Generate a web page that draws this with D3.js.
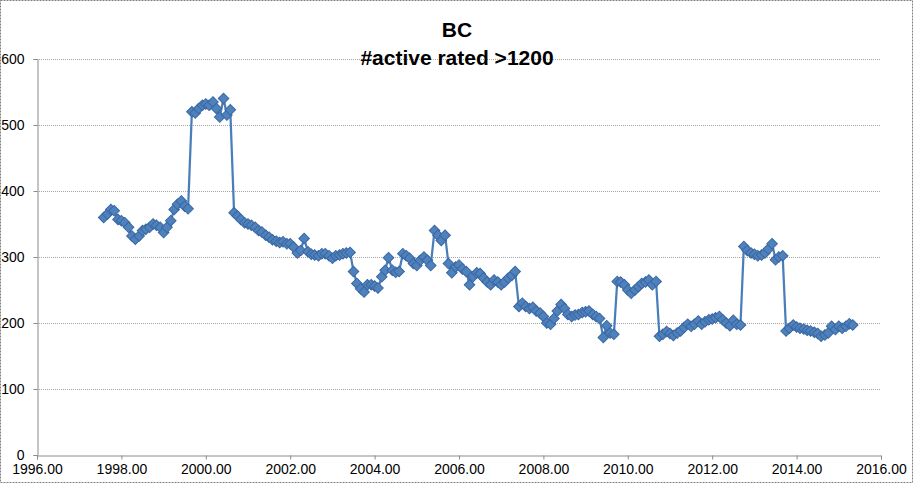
<!DOCTYPE html>
<html>
<head>
<meta charset="utf-8">
<script src="https://cdn.jsdelivr.net/npm/d3@7"></script>
<style>
  html, body { margin: 0; padding: 0; background: #fff; }
  svg { display: block; }
</style>
</head>
<body>
<svg id="chart" width="913" height="483"></svg>
<script>
// ---- data ----
const titleLines = ["BC", "#active rated >1200"];
const xTicks = [1996, 1998, 2000, 2002, 2004, 2006, 2008, 2010, 2012, 2014, 2016];
const yTicks = [0, 100, 200, 300, 400, 500, 600];

const years = [
  1997.58,1997.67,1997.75,1997.83,1997.92,
  1998.00,1998.08,1998.17,1998.25,1998.33,1998.42,1998.50,1998.58,1998.67,1998.75,1998.83,1998.92,
  1999.00,1999.08,1999.17,1999.25,1999.33,1999.42,1999.50,1999.58,1999.67,1999.75,1999.83,1999.92,
  2000.00,2000.08,2000.17,2000.25,2000.33,2000.42,2000.50,2000.58,2000.67,2000.75,2000.83,2000.92,
  2001.00,2001.08,2001.17,2001.25,2001.33,2001.42,2001.50,2001.58,2001.67,2001.75,2001.83,2001.92,
  2002.00,2002.08,2002.17,2002.25,2002.33,2002.42,2002.50,2002.58,2002.67,2002.75,2002.83,2002.92,
  2003.00,2003.08,2003.17,2003.25,2003.33,2003.42,2003.50,2003.58,2003.67,2003.75,2003.83,2003.92,
  2004.00,2004.08,2004.17,2004.25,2004.33,2004.42,2004.50,2004.58,2004.67,2004.75,2004.83,2004.92,
  2005.00,2005.08,2005.17,2005.25,2005.33,2005.42,2005.50,2005.58,2005.67,2005.75,2005.83,2005.92,
  2006.00,2006.08,2006.17,2006.25,2006.33,2006.42,2006.50,2006.58,2006.67,2006.75,2006.83,2006.92,
  2007.00,2007.08,2007.17,2007.25,2007.33,2007.42,2007.50,2007.58,2007.67,2007.75,2007.83,2007.92,
  2008.00,2008.08,2008.17,2008.25,2008.33,2008.42,2008.50,2008.58,2008.67,2008.75,2008.83,2008.92,
  2009.00,2009.08,2009.17,2009.25,2009.33,2009.42,2009.50,2009.58,2009.67,2009.75,2009.83,2009.92,
  2010.00,2010.08,2010.17,2010.25,2010.33,2010.42,2010.50,2010.58,2010.67,2010.75,2010.83,2010.92,
  2011.00,2011.08,2011.17,2011.25,2011.33,2011.42,2011.50,2011.58,2011.67,2011.75,2011.83,2011.92,
  2012.00,2012.08,2012.17,2012.25,2012.33,2012.42,2012.50,2012.58,2012.67,2012.75,2012.83,2012.92,
  2013.00,2013.08,2013.17,2013.25,2013.33,2013.42,2013.50,2013.58,2013.67,2013.75,2013.83,2013.92,
  2014.00,2014.08,2014.17,2014.25,2014.33,2014.42,2014.50,2014.58,2014.67,2014.75,2014.83,2014.92,
  2015.00,2015.08,2015.17,2015.25,2015.33
];

const activeRated = [
  360,365,372,370,357,
  355,352,345,332,327,332,340,342,345,350,348,345,
  337,345,355,372,380,385,377,373,520,518,525,530,
  532,530,535,525,512,540,515,523,367,362,357,352,
  350,348,345,340,338,333,330,326,324,322,323,320,
  320,315,306,310,328,308,304,303,302,305,305,302,
  298,302,303,305,306,307,278,260,252,247,258,258,
  256,253,270,280,299,280,277,278,305,302,298,290,
  287,295,300,295,287,340,333,325,333,290,276,285,
  288,282,278,258,270,276,275,268,262,258,265,262,
  258,262,268,272,278,225,230,225,222,224,218,215,
  210,200,198,207,218,228,222,213,210,212,213,216,
  217,218,213,210,207,178,196,185,183,263,262,258,
  250,245,250,255,260,262,265,258,263,180,183,187,
  184,181,185,188,193,198,195,198,203,198,202,205,
  206,208,210,205,200,196,204,198,197,316,310,306,
  304,302,303,306,312,320,296,300,302,188,192,197,
  194,192,191,189,188,186,184,180,182,185,195,190,
  195,192,195,199,197
];

// ---- drawing ----
const svg = d3.select("#chart");
const W = 913, H = 483;
const plot = { left: 37, right: 881, top: 59, bottom: 455 };
const labelFont = "'Liberation Sans Narrow', 'Arial Narrow', 'Liberation Sans', Arial, sans-serif";

const x = d3.scaleLinear().domain([1996, 2016]).range([plot.left, plot.right]);
const y = d3.scaleLinear().domain([0, 600]).range([plot.bottom, plot.top]);

// outer border
svg.append("rect")
  .attr("x", 0.5).attr("y", 0.5).attr("width", W - 1).attr("height", H - 1)
  .attr("fill", "#fff").attr("stroke", "#7f7f7f").attr("stroke-dasharray", "2,1");

// gridlines
svg.append("g").selectAll("line")
  .data(yTicks.filter(v => v > 0))
  .join("line")
  .attr("x1", plot.left).attr("x2", plot.right)
  .attr("y1", d => Math.round(y(d)) + 0.5).attr("y2", d => Math.round(y(d)) + 0.5)
  .attr("stroke", "#a6a6a6").attr("stroke-width", 1).attr("stroke-dasharray", "1,1");

// y axis
const yAxis = svg.append("g")
  .attr("transform", `translate(${plot.left + 0.5},0)`)
  .call(d3.axisLeft(y).tickValues(yTicks).tickSize(4).tickPadding(9).tickFormat(d3.format("d")));
yAxis.select(".domain").attr("stroke", "#8c8c8c");
yAxis.selectAll(".tick line").attr("stroke", "#8c8c8c");
yAxis.selectAll("text").attr("font-family", labelFont).attr("font-size", 14).attr("fill", "#000");

// x axis
const xAxis = svg.append("g")
  .attr("transform", `translate(0,${plot.bottom + 0.5})`)
  .call(d3.axisBottom(x).tickValues(xTicks).tickSize(4).tickPadding(5).tickFormat(d3.format(".2f")));
xAxis.select(".domain").attr("stroke", "#8c8c8c");
xAxis.selectAll(".tick line").attr("stroke", "#8c8c8c");
xAxis.selectAll("text").attr("font-family", labelFont).attr("font-size", 14).attr("fill", "#000");

// series
const pts = years.map((yr, i) => ({ yr, v: activeRated[i] }));
const line = d3.line().x(d => x(d.yr)).y(d => y(d.v));
svg.append("path")
  .datum(pts)
  .attr("d", line)
  .attr("fill", "none")
  .attr("stroke", "#4a7ebb")
  .attr("stroke-width", 2.25)
  .attr("stroke-linejoin", "round");

const diamond = d3.symbol().type(d3.symbolSquare).size(56);
svg.append("g").selectAll("path")
  .data(pts)
  .join("path")
  .attr("d", diamond)
  .attr("transform", d => `translate(${x(d.yr)},${y(d.v)}) rotate(45)`)
  .attr("fill", "#4f81bd")
  .attr("stroke", "#3a68a3")
  .attr("stroke-width", 1);

// title
const titleFont = "'Liberation Sans Narrow', 'Arial Narrow', 'Liberation Sans', Arial, sans-serif";
svg.append("text")
  .attr("x", 457).attr("y", 37)
  .attr("text-anchor", "middle")
  .attr("font-family", titleFont).attr("font-weight", "bold").attr("font-size", 21)
  .text(titleLines[0]);
svg.append("text")
  .attr("x", 457).attr("y", 65)
  .attr("text-anchor", "middle")
  .attr("font-family", titleFont).attr("font-weight", "bold").attr("font-size", 21)
  .text(titleLines[1]);
</script>
</body>
</html>
